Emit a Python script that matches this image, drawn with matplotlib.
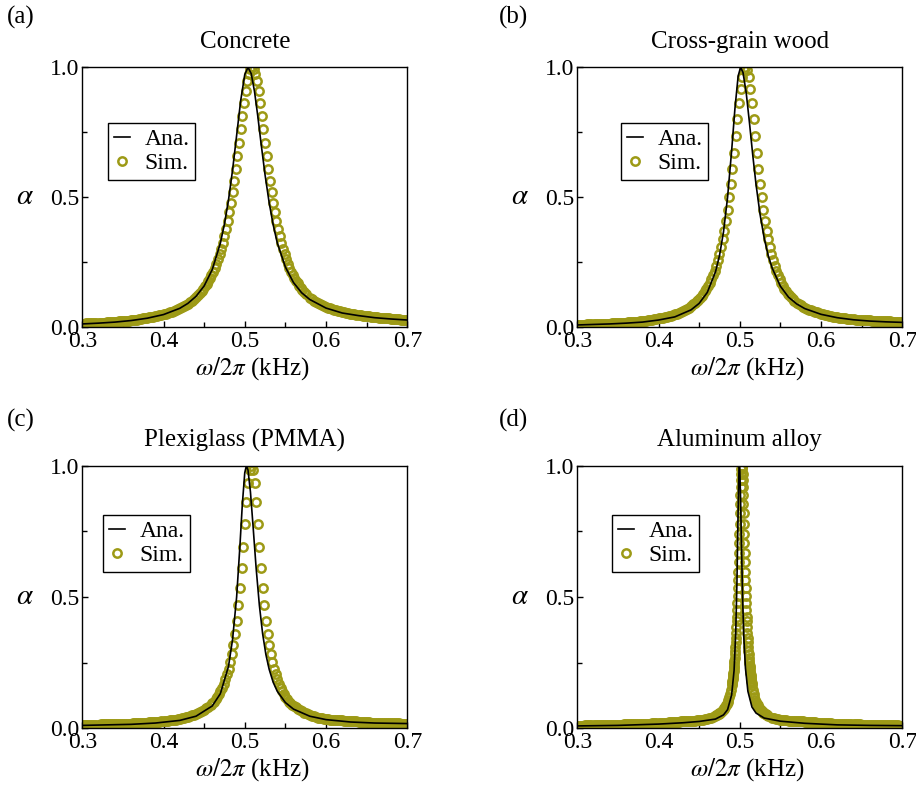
import numpy as np
import matplotlib.pyplot as plt

plt.rcParams.update({
    "font.family": "Liberation Serif",
    "mathtext.fontset": "stix",
    "font.size": 17,
    "axes.linewidth": 1.0,
})

sim_color = "#9D9A16"

# ---------------- (a) Concrete ----------------
conc_ana_f = [0.30, 0.32, 0.34, 0.36, 0.38, 0.40, 0.42, 0.43, 0.44, 0.45, 0.46, 0.47, 0.475, 0.48, 0.485,
              0.49, 0.495, 0.50, 0.504, 0.508, 0.512, 0.516, 0.52, 0.525, 0.53, 0.535, 0.54, 0.55, 0.56,
              0.57, 0.58, 0.60, 0.62, 0.64, 0.66, 0.68, 0.70]
conc_ana_a = [0.013, 0.016, 0.020, 0.026, 0.035, 0.049, 0.073, 0.092, 0.119, 0.159, 0.222, 0.324, 0.397, 0.490,
              0.605, 0.738, 0.872, 0.972, 1.0, 0.975, 0.907, 0.813, 0.709, 0.586, 0.480, 0.394, 0.325, 0.232,
              0.172, 0.133, 0.107, 0.074, 0.055, 0.045, 0.037, 0.032, 0.028]

conc_sim_f_low = [0.3000, 0.3025, 0.3050, 0.3075, 0.3100, 0.3125, 0.3150, 0.3175, 0.3200, 0.3225, 0.3250,
                  0.3275, 0.3300, 0.3325, 0.3350, 0.3375, 0.3400, 0.3425, 0.3450, 0.3475, 0.3500, 0.3525,
                  0.3550, 0.3575, 0.3600, 0.3625, 0.3650, 0.3675, 0.3700, 0.3725, 0.3750, 0.3775, 0.3800,
                  0.3825, 0.3850, 0.3875, 0.3900, 0.3925, 0.3950, 0.3975, 0.4000, 0.4025, 0.4050, 0.4075,
                  0.4100, 0.4125, 0.4150, 0.4175, 0.4200, 0.4225, 0.4250, 0.4275, 0.4300, 0.4325, 0.4350,
                  0.4375, 0.4400]
conc_sim_a_low = [0.014, 0.014, 0.015, 0.015, 0.016, 0.016, 0.016, 0.017, 0.017, 0.018, 0.018, 0.018, 0.019,
                  0.019, 0.020, 0.020, 0.021, 0.022, 0.023, 0.023, 0.024, 0.025, 0.026, 0.026, 0.027, 0.028,
                  0.029, 0.030, 0.031, 0.032, 0.034, 0.035, 0.036, 0.038, 0.039, 0.041, 0.042, 0.044, 0.046,
                  0.048, 0.050, 0.052, 0.055, 0.057, 0.060, 0.063, 0.066, 0.069, 0.073, 0.077, 0.081, 0.086,
                  0.091, 0.097, 0.103, 0.109, 0.116]
conc_sim_f_peak = [0.443, 0.445, 0.447, 0.449, 0.451, 0.453, 0.455, 0.457, 0.459, 0.461, 0.463, 0.465, 0.467,
                   0.469, 0.471, 0.473, 0.475, 0.477, 0.479, 0.481, 0.483, 0.485, 0.487, 0.489, 0.491, 0.493,
                   0.495, 0.497, 0.499, 0.501, 0.503, 0.505, 0.507, 0.509, 0.511, 0.513, 0.515, 0.517, 0.519,
                   0.521, 0.523, 0.525, 0.527, 0.529, 0.531, 0.533, 0.535, 0.537, 0.539, 0.541, 0.543, 0.545,
                   0.547, 0.549, 0.551, 0.553, 0.555, 0.557, 0.559, 0.561, 0.563, 0.565, 0.567, 0.569, 0.571,
                   0.573, 0.575]
conc_sim_a_peak = [0.126, 0.132, 0.140, 0.148, 0.157, 0.166, 0.177, 0.188, 0.200, 0.213, 0.228, 0.244, 0.262,
                   0.281, 0.302, 0.325, 0.351, 0.379, 0.410, 0.444, 0.480, 0.520, 0.564, 0.610, 0.659, 0.709,
                   0.761, 0.813, 0.862, 0.907, 0.946, 0.975, 0.994, 1.000, 0.994, 0.975, 0.946, 0.907, 0.862,
                   0.813, 0.761, 0.709, 0.659, 0.610, 0.564, 0.520, 0.480, 0.444, 0.410, 0.379, 0.351, 0.325,
                   0.302, 0.281, 0.262, 0.244, 0.228, 0.213, 0.203, 0.191, 0.180, 0.169, 0.160, 0.151, 0.143,
                   0.135, 0.129]
conc_sim_f_high = [0.5800, 0.5825, 0.5850, 0.5875, 0.5900, 0.5925, 0.5950, 0.5975, 0.6000, 0.6025, 0.6050,
                   0.6075, 0.6100, 0.6125, 0.6150, 0.6175, 0.6200, 0.6225, 0.6250, 0.6275, 0.6300, 0.6325,
                   0.6350, 0.6375, 0.6400, 0.6425, 0.6450, 0.6475, 0.6500, 0.6525, 0.6550, 0.6575, 0.6600,
                   0.6625, 0.6650, 0.6675, 0.6700, 0.6725, 0.6750, 0.6775, 0.6800, 0.6825, 0.6850, 0.6875,
                   0.6900, 0.6925, 0.6950, 0.6975, 0.7000]
conc_sim_a_high = [0.114, 0.108, 0.103, 0.098, 0.093, 0.089, 0.085, 0.081, 0.078, 0.075, 0.073, 0.070, 0.068,
                   0.065, 0.063, 0.061, 0.059, 0.057, 0.055, 0.054, 0.052, 0.051, 0.050, 0.048, 0.047, 0.046,
                   0.045, 0.044, 0.043, 0.042, 0.041, 0.040, 0.039, 0.038, 0.037, 0.036, 0.036, 0.035, 0.034,
                   0.034, 0.033, 0.032, 0.032, 0.031, 0.031, 0.030, 0.030, 0.029, 0.029]

# ---------------- (b) Cross-grain wood ----------------
wood_ana_f = [0.30, 0.32, 0.34, 0.36, 0.38, 0.40, 0.42, 0.44, 0.45, 0.46, 0.47, 0.475, 0.48, 0.485, 0.49,
              0.494, 0.498, 0.501, 0.504, 0.508, 0.512, 0.516, 0.52, 0.525, 0.53, 0.535, 0.54, 0.55, 0.56,
              0.57, 0.58, 0.60, 0.62, 0.64, 0.66, 0.68, 0.70]
wood_ana_a = [0.009, 0.011, 0.013, 0.016, 0.020, 0.028, 0.040, 0.067, 0.092, 0.134, 0.212, 0.275, 0.367, 0.500,
              0.679, 0.839, 0.966, 1.0, 0.980, 0.900, 0.785, 0.662, 0.550, 0.434, 0.344, 0.276, 0.227, 0.158,
              0.116, 0.090, 0.072, 0.050, 0.037, 0.029, 0.024, 0.021, 0.019]

wood_sim_f_low = [0.3000, 0.3025, 0.3050, 0.3075, 0.3100, 0.3125, 0.3150, 0.3175, 0.3200, 0.3225, 0.3250,
                  0.3275, 0.3300, 0.3325, 0.3350, 0.3375, 0.3400, 0.3425, 0.3450, 0.3475, 0.3500, 0.3525,
                  0.3550, 0.3575, 0.3600, 0.3625, 0.3650, 0.3675, 0.3700, 0.3725, 0.3750, 0.3775, 0.3800,
                  0.3825, 0.3850, 0.3875, 0.3900, 0.3925, 0.3950, 0.3975, 0.4000, 0.4025, 0.4050, 0.4075,
                  0.4100, 0.4125, 0.4150, 0.4175, 0.4200, 0.4225, 0.4250, 0.4275, 0.4300, 0.4325, 0.4350,
                  0.4375, 0.4400, 0.4425, 0.4450]
wood_sim_a_low = [0.009, 0.009, 0.010, 0.010, 0.010, 0.011, 0.011, 0.011, 0.011, 0.012, 0.012, 0.012, 0.013,
                  0.013, 0.013, 0.014, 0.014, 0.015, 0.015, 0.016, 0.016, 0.017, 0.017, 0.018, 0.018, 0.019,
                  0.020, 0.020, 0.021, 0.022, 0.022, 0.023, 0.024, 0.025, 0.026, 0.027, 0.028, 0.030, 0.031,
                  0.032, 0.034, 0.035, 0.037, 0.039, 0.041, 0.043, 0.045, 0.047, 0.050, 0.053, 0.056, 0.059,
                  0.063, 0.067, 0.071, 0.076, 0.082, 0.088, 0.094]
wood_sim_f_peak = [0.447, 0.449, 0.451, 0.453, 0.455, 0.457, 0.459, 0.461, 0.463, 0.465, 0.467, 0.469, 0.471,
                   0.473, 0.475, 0.477, 0.479, 0.481, 0.483, 0.485, 0.487, 0.489, 0.491, 0.493, 0.495, 0.497,
                   0.499, 0.501, 0.503, 0.505, 0.507, 0.509, 0.511, 0.513, 0.515, 0.517, 0.519, 0.521, 0.523,
                   0.525, 0.527, 0.529, 0.531, 0.533, 0.535, 0.537, 0.539, 0.541, 0.543, 0.545, 0.547, 0.549,
                   0.551, 0.553, 0.555, 0.557, 0.559, 0.561, 0.563, 0.565, 0.567]
wood_sim_a_peak = [0.100, 0.106, 0.113, 0.121, 0.129, 0.138, 0.148, 0.159, 0.171, 0.185, 0.200, 0.217, 0.236,
                   0.257, 0.281, 0.308, 0.338, 0.372, 0.410, 0.452, 0.500, 0.552, 0.610, 0.671, 0.735, 0.800,
                   0.862, 0.917, 0.962, 0.990, 1.000, 0.990, 0.962, 0.917, 0.862, 0.800, 0.735, 0.671, 0.610,
                   0.552, 0.500, 0.452, 0.410, 0.372, 0.338, 0.308, 0.281, 0.257, 0.236, 0.217, 0.200, 0.185,
                   0.171, 0.159, 0.148, 0.138, 0.129, 0.123, 0.115, 0.108, 0.102]
wood_sim_f_high = [0.5700, 0.5725, 0.5750, 0.5775, 0.5800, 0.5825, 0.5850, 0.5875, 0.5900, 0.5925, 0.5950,
                   0.5975, 0.6000, 0.6025, 0.6050, 0.6075, 0.6100, 0.6125, 0.6150, 0.6175, 0.6200, 0.6225,
                   0.6250, 0.6275, 0.6300, 0.6325, 0.6350, 0.6375, 0.6400, 0.6425, 0.6450, 0.6475, 0.6500,
                   0.6525, 0.6550, 0.6575, 0.6600, 0.6625, 0.6650, 0.6675, 0.6700, 0.6725, 0.6750, 0.6775,
                   0.6800, 0.6825, 0.6850, 0.6875, 0.6900, 0.6925, 0.6950, 0.6975, 0.7000]
wood_sim_a_high = [0.095, 0.089, 0.084, 0.079, 0.075, 0.071, 0.068, 0.065, 0.062, 0.059, 0.057, 0.054, 0.052,
                   0.050, 0.048, 0.046, 0.044, 0.042, 0.041, 0.039, 0.038, 0.037, 0.036, 0.035, 0.034, 0.033,
                   0.032, 0.031, 0.031, 0.030, 0.030, 0.029, 0.029, 0.028, 0.028, 0.027, 0.027, 0.026, 0.026,
                   0.025, 0.025, 0.024, 0.024, 0.024, 0.023, 0.023, 0.023, 0.022, 0.022, 0.022, 0.021, 0.021,
                   0.021]

# ---------------- (c) Plexiglass (PMMA) ----------------
pmma_ana_f = [0.30, 0.33, 0.36, 0.39, 0.42, 0.44, 0.46, 0.47, 0.48, 0.485, 0.49, 0.494, 0.497, 0.50, 0.502,
              0.504, 0.507, 0.51, 0.514, 0.518, 0.522, 0.526, 0.53, 0.535, 0.54, 0.55, 0.56, 0.58, 0.60,
              0.63, 0.66, 0.70]
pmma_ana_a = [0.011, 0.013, 0.015, 0.020, 0.030, 0.046, 0.085, 0.132, 0.236, 0.338, 0.500, 0.692, 0.852, 0.973,
              1.0, 0.983, 0.900, 0.779, 0.610, 0.468, 0.360, 0.281, 0.225, 0.175, 0.141, 0.098, 0.073, 0.046,
              0.033, 0.024, 0.020, 0.018]

pmma_sim_f_low = [0.3000, 0.3025, 0.3050, 0.3075, 0.3100, 0.3125, 0.3150, 0.3175, 0.3200, 0.3225, 0.3250,
                  0.3275, 0.3300, 0.3325, 0.3350, 0.3375, 0.3400, 0.3425, 0.3450, 0.3475, 0.3500, 0.3525,
                  0.3550, 0.3575, 0.3600, 0.3625, 0.3650, 0.3675, 0.3700, 0.3725, 0.3750, 0.3775, 0.3800,
                  0.3825, 0.3850, 0.3875, 0.3900, 0.3925, 0.3950, 0.3975, 0.4000, 0.4025, 0.4050, 0.4075,
                  0.4100, 0.4125, 0.4150, 0.4175, 0.4200, 0.4225, 0.4250, 0.4275, 0.4300, 0.4325, 0.4350,
                  0.4375, 0.4400, 0.4425, 0.4450, 0.4475, 0.4500, 0.4525, 0.4550]
pmma_sim_a_low = [0.013, 0.013, 0.013, 0.013, 0.014, 0.014, 0.014, 0.014, 0.014, 0.015, 0.015, 0.015, 0.015,
                  0.016, 0.016, 0.016, 0.016, 0.016, 0.016, 0.017, 0.017, 0.017, 0.018, 0.018, 0.018, 0.019,
                  0.019, 0.020, 0.020, 0.021, 0.021, 0.022, 0.022, 0.023, 0.023, 0.024, 0.024, 0.025, 0.025,
                  0.026, 0.027, 0.028, 0.029, 0.030, 0.031, 0.032, 0.033, 0.035, 0.036, 0.038, 0.040, 0.042,
                  0.044, 0.046, 0.049, 0.052, 0.055, 0.058, 0.062, 0.066, 0.071, 0.076, 0.082]
pmma_sim_f_peak = [0.458, 0.460, 0.462, 0.464, 0.466, 0.468, 0.470, 0.472, 0.474, 0.476, 0.478, 0.480, 0.482,
                   0.484, 0.486, 0.488, 0.490, 0.492, 0.494, 0.496, 0.498, 0.500, 0.502, 0.504, 0.506, 0.508,
                   0.510, 0.512, 0.514, 0.516, 0.518, 0.520, 0.522, 0.524, 0.526, 0.528, 0.530, 0.532, 0.534,
                   0.536, 0.538, 0.540, 0.542, 0.544, 0.546, 0.548, 0.550, 0.552, 0.554, 0.556, 0.558]
pmma_sim_a_peak = [0.089, 0.095, 0.102, 0.110, 0.119, 0.129, 0.141, 0.154, 0.169, 0.186, 0.205, 0.227, 0.253,
                   0.281, 0.317, 0.360, 0.410, 0.468, 0.534, 0.610, 0.692, 0.779, 0.862, 0.934, 0.983, 1.000,
                   0.983, 0.934, 0.862, 0.779, 0.692, 0.610, 0.534, 0.468, 0.410, 0.360, 0.317, 0.281, 0.253,
                   0.227, 0.205, 0.186, 0.169, 0.154, 0.141, 0.129, 0.119, 0.110, 0.102, 0.095, 0.089]
pmma_sim_f_high = [0.5600, 0.5625, 0.5650, 0.5675, 0.5700, 0.5725, 0.5750, 0.5775, 0.5800, 0.5825, 0.5850,
                   0.5875, 0.5900, 0.5925, 0.5950, 0.5975, 0.6000, 0.6025, 0.6050, 0.6075, 0.6100, 0.6125,
                   0.6150, 0.6175, 0.6200, 0.6225, 0.6250, 0.6275, 0.6300, 0.6325, 0.6350, 0.6375, 0.6400,
                   0.6425, 0.6450, 0.6475, 0.6500, 0.6525, 0.6550, 0.6575, 0.6600, 0.6625, 0.6650, 0.6675,
                   0.6700, 0.6725, 0.6750, 0.6775, 0.6800, 0.6825, 0.6850, 0.6875, 0.6900, 0.6925, 0.6950,
                   0.6975, 0.7000]
pmma_sim_a_high = [0.086, 0.080, 0.074, 0.069, 0.064, 0.060, 0.057, 0.054, 0.051, 0.048, 0.046, 0.043, 0.041,
                   0.040, 0.038, 0.036, 0.035, 0.034, 0.033, 0.032, 0.032, 0.031, 0.031, 0.030, 0.030, 0.029,
                   0.028, 0.028, 0.027, 0.027, 0.026, 0.026, 0.025, 0.025, 0.024, 0.024, 0.023, 0.023, 0.022,
                   0.022, 0.022, 0.021, 0.021, 0.021, 0.021, 0.020, 0.020, 0.020, 0.020, 0.019, 0.019, 0.019,
                   0.019, 0.018, 0.018, 0.018, 0.018]

# ---------------- (d) Aluminum alloy ----------------
alu_ana_f = [0.30, 0.35, 0.40, 0.43, 0.45, 0.47, 0.48, 0.485, 0.49, 0.493, 0.495, 0.4965, 0.498, 0.499,
             0.4995, 0.500, 0.501, 0.502, 0.5035, 0.505, 0.507, 0.510, 0.515, 0.52, 0.53, 0.55, 0.58, 0.62,
             0.66, 0.70]
alu_ana_a = [0.009, 0.011, 0.016, 0.021, 0.026, 0.035, 0.051, 0.071, 0.127, 0.220, 0.361, 0.552, 0.830, 0.981,
             1.0, 0.988, 0.875, 0.713, 0.494, 0.346, 0.229, 0.141, 0.081, 0.058, 0.039, 0.027, 0.019, 0.013,
             0.011, 0.010]

alu_sim_f_low = [0.3000, 0.3025, 0.3050, 0.3075, 0.3100, 0.3125, 0.3150, 0.3175, 0.3200, 0.3225, 0.3250,
                 0.3275, 0.3300, 0.3325, 0.3350, 0.3375, 0.3400, 0.3425, 0.3450, 0.3475, 0.3500, 0.3525,
                 0.3550, 0.3575, 0.3600, 0.3625, 0.3650, 0.3675, 0.3700, 0.3725, 0.3750, 0.3775, 0.3800,
                 0.3825, 0.3850, 0.3875, 0.3900, 0.3925, 0.3950, 0.3975, 0.4000, 0.4025, 0.4050, 0.4075,
                 0.4100, 0.4125, 0.4150, 0.4175, 0.4200, 0.4225, 0.4250, 0.4275, 0.4300, 0.4325, 0.4350,
                 0.4375, 0.4400, 0.4425, 0.4450, 0.4475, 0.4500, 0.4525, 0.4550, 0.4575, 0.4600, 0.4625,
                 0.4650, 0.4675, 0.4700]
alu_sim_a_low = [0.010, 0.010, 0.010, 0.010, 0.011, 0.011, 0.011, 0.011, 0.011, 0.012, 0.012, 0.012, 0.012,
                 0.012, 0.012, 0.013, 0.013, 0.013, 0.013, 0.014, 0.014, 0.014, 0.014, 0.015, 0.015, 0.015,
                 0.015, 0.016, 0.016, 0.016, 0.016, 0.017, 0.017, 0.018, 0.018, 0.018, 0.018, 0.019, 0.019,
                 0.020, 0.020, 0.021, 0.021, 0.022, 0.022, 0.023, 0.023, 0.024, 0.024, 0.025, 0.025, 0.026,
                 0.026, 0.027, 0.027, 0.028, 0.028, 0.029, 0.029, 0.030, 0.031, 0.032, 0.033, 0.034, 0.036,
                 0.038, 0.040, 0.043, 0.047]
alu_sim_f_rise = [0.471, 0.472, 0.473, 0.474, 0.475, 0.476, 0.477, 0.478, 0.479, 0.480, 0.481, 0.482, 0.483,
                  0.484, 0.485, 0.486, 0.487, 0.488, 0.489, 0.490]
alu_sim_a_rise = [0.050, 0.051, 0.053, 0.055, 0.057, 0.059, 0.062, 0.065, 0.068, 0.072, 0.076, 0.081, 0.087,
                  0.093, 0.101, 0.109, 0.119, 0.131, 0.146, 0.163]
alu_sim_f_peak = [0.4905, 0.4908, 0.4911, 0.4914, 0.4917, 0.4920, 0.4923, 0.4926, 0.4929, 0.4932, 0.4935,
                  0.4938, 0.4941, 0.4944, 0.4947, 0.4950, 0.4953, 0.4956, 0.4959, 0.4962, 0.4965, 0.4968,
                  0.4971, 0.4974, 0.4977, 0.4980, 0.4983, 0.4986, 0.4989, 0.4992, 0.4995, 0.4998, 0.5001,
                  0.5004, 0.5007, 0.5010, 0.5013, 0.5016, 0.5019, 0.5022, 0.5025, 0.5028, 0.5031, 0.5034,
                  0.5037, 0.5040, 0.5043, 0.5046, 0.5049, 0.5052, 0.5055, 0.5058, 0.5061, 0.5064, 0.5067,
                  0.5070, 0.5073, 0.5076, 0.5079, 0.5082, 0.5085, 0.5088, 0.5091, 0.5094, 0.5097, 0.5100,
                  0.5103, 0.5106, 0.5109, 0.5112, 0.5115, 0.5118, 0.5121, 0.5124, 0.5127, 0.5130, 0.5133,
                  0.5136, 0.5139, 0.5142, 0.5145]
alu_sim_a_peak = [0.173, 0.179, 0.186, 0.194, 0.202, 0.210, 0.219, 0.228, 0.238, 0.249, 0.256, 0.268, 0.282,
                  0.296, 0.311, 0.328, 0.345, 0.364, 0.385, 0.407, 0.425, 0.450, 0.477, 0.505, 0.535, 0.563,
                  0.596, 0.632, 0.669, 0.707, 0.740, 0.779, 0.818, 0.855, 0.890, 0.917, 0.946, 0.969, 0.986,
                  0.996, 1.000, 0.996, 0.986, 0.969, 0.946, 0.917, 0.890, 0.855, 0.818, 0.779, 0.740, 0.707,
                  0.669, 0.632, 0.596, 0.563, 0.535, 0.505, 0.477, 0.450, 0.425, 0.407, 0.385, 0.364, 0.345,
                  0.328, 0.311, 0.296, 0.282, 0.268, 0.256, 0.249, 0.238, 0.228, 0.219, 0.210, 0.202, 0.194,
                  0.186, 0.179, 0.173]
alu_sim_f_fall = [0.515, 0.516, 0.517, 0.518, 0.519, 0.520, 0.521, 0.522, 0.523, 0.524, 0.525, 0.526, 0.527,
                  0.528, 0.529, 0.530, 0.531, 0.532, 0.533, 0.534, 0.535]
alu_sim_a_fall = [0.163, 0.146, 0.131, 0.119, 0.109, 0.101, 0.093, 0.087, 0.081, 0.076, 0.072, 0.068, 0.065,
                  0.062, 0.059, 0.057, 0.055, 0.053, 0.051, 0.050, 0.048]
alu_sim_f_high = [0.5400, 0.5425, 0.5450, 0.5475, 0.5500, 0.5525, 0.5550, 0.5575, 0.5600, 0.5625, 0.5650,
                  0.5675, 0.5700, 0.5725, 0.5750, 0.5775, 0.5800, 0.5825, 0.5850, 0.5875, 0.5900, 0.5925,
                  0.5950, 0.5975, 0.6000, 0.6025, 0.6050, 0.6075, 0.6100, 0.6125, 0.6150, 0.6175, 0.6200,
                  0.6225, 0.6250, 0.6275, 0.6300, 0.6325, 0.6350, 0.6375, 0.6400, 0.6425, 0.6450, 0.6475,
                  0.6500, 0.6525, 0.6550, 0.6575, 0.6600, 0.6625, 0.6650, 0.6675, 0.6700, 0.6725, 0.6750,
                  0.6775, 0.6800, 0.6825, 0.6850, 0.6875, 0.6900, 0.6925, 0.6950, 0.6975, 0.7000]
alu_sim_a_high = [0.040, 0.038, 0.036, 0.034, 0.033, 0.032, 0.031, 0.030, 0.029, 0.029, 0.028, 0.028, 0.027,
                  0.027, 0.026, 0.026, 0.025, 0.025, 0.024, 0.024, 0.023, 0.023, 0.022, 0.022, 0.021, 0.021,
                  0.020, 0.020, 0.019, 0.019, 0.018, 0.018, 0.018, 0.018, 0.017, 0.017, 0.016, 0.016, 0.016,
                  0.016, 0.015, 0.015, 0.015, 0.015, 0.014, 0.014, 0.014, 0.014, 0.013, 0.013, 0.013, 0.013,
                  0.012, 0.012, 0.012, 0.012, 0.012, 0.012, 0.011, 0.011, 0.011, 0.011, 0.011, 0.010, 0.010]

panels = [
    ("(a)", "Concrete", conc_ana_f, conc_ana_a,
     conc_sim_f_low + conc_sim_f_peak + conc_sim_f_high,
     conc_sim_a_low + conc_sim_a_peak + conc_sim_a_high,
     [0.0898, 0.5841, 0.3548, 0.3304], (0.079, 0.786), (0.008, 0.978)),
    ("(b)", "Cross-grain wood", wood_ana_f, wood_ana_a,
     wood_sim_f_low + wood_sim_f_peak + wood_sim_f_high,
     wood_sim_a_low + wood_sim_a_peak + wood_sim_a_high,
     [0.6302, 0.5841, 0.3548, 0.3304], (0.134, 0.786), (0.545, 0.978)),
    ("(c)", "Plexiglass (PMMA)", pmma_ana_f, pmma_ana_a,
     pmma_sim_f_low + pmma_sim_f_peak + pmma_sim_f_high,
     pmma_sim_a_low + pmma_sim_a_peak + pmma_sim_a_high,
     [0.0898, 0.0746, 0.3548, 0.3337], (0.063, 0.813), (0.008, 0.466)),
    ("(d)", "Aluminum alloy", alu_ana_f, alu_ana_a,
     alu_sim_f_low + alu_sim_f_rise + alu_sim_f_peak + alu_sim_f_fall + alu_sim_f_high,
     alu_sim_a_low + alu_sim_a_rise + alu_sim_a_peak + alu_sim_a_fall + alu_sim_a_high,
     [0.6302, 0.0746, 0.3548, 0.3337], (0.106, 0.813), (0.545, 0.466)),
]

fig = plt.figure(figsize=(9.16, 7.87), dpi=100)

for tag, title, ana_f, ana_a, sim_f, sim_a, rect, leg_xy, tag_xy in panels:
    ax = fig.add_axes(rect)

    sim, = ax.plot(sim_f, sim_a, linestyle="none", marker="o", markersize=6.0,
                   markerfacecolor="none", markeredgecolor=sim_color,
                   markeredgewidth=1.8, label="Sim.", zorder=2)
    ana, = ax.plot(ana_f, ana_a, color="black", linewidth=1.2, label="Ana.", zorder=3)

    ax.set_xlim(0.3, 0.7)
    ax.set_ylim(0.0, 1.0)
    ax.set_xticks([0.3, 0.4, 0.5, 0.6, 0.7])
    ax.set_xticklabels(["0.3", "0.4", "0.5", "0.6", "0.7"])
    ax.set_xticks([0.35, 0.45, 0.55, 0.65], minor=True)
    ax.set_yticks([0.0, 0.5, 1.0])
    ax.set_yticklabels(["0.0", "0.5", "1.0"])
    ax.set_yticks([0.25, 0.75], minor=True)
    ax.tick_params(which="both", direction="in", top=False, right=False, width=1.0)
    ax.tick_params(which="major", length=4.5, labelsize=17)
    ax.tick_params(axis="x", which="major", pad=3)
    ax.tick_params(axis="y", which="major", pad=2)
    ax.tick_params(which="minor", length=3.5)

    ax.set_title(title, fontsize=18, pad=14)
    ax.set_xlabel(r"$\omega/2\pi$ (kHz)", fontsize=18, va="center")
    ax.xaxis.set_label_coords(0.522, -0.157)
    ax.set_ylabel(r"$\alpha$", fontsize=21, rotation=0, va="center", ha="center")
    ax.yaxis.set_label_coords(-0.176, 0.5)

    leg = ax.legend(handles=[ana, sim], loc="upper left", bbox_to_anchor=leg_xy,
                    borderaxespad=0, frameon=True, fancybox=False, edgecolor="black",
                    framealpha=1, handlelength=0.7, handletextpad=0.6, borderpad=0.25,
                    labelspacing=0.1, fontsize=17)
    leg.get_frame().set_linewidth(1.0)

    fig.text(tag_xy[0], tag_xy[1], tag, fontsize=18, va="center", ha="left")

fig.savefig("out.png", dpi=100)
